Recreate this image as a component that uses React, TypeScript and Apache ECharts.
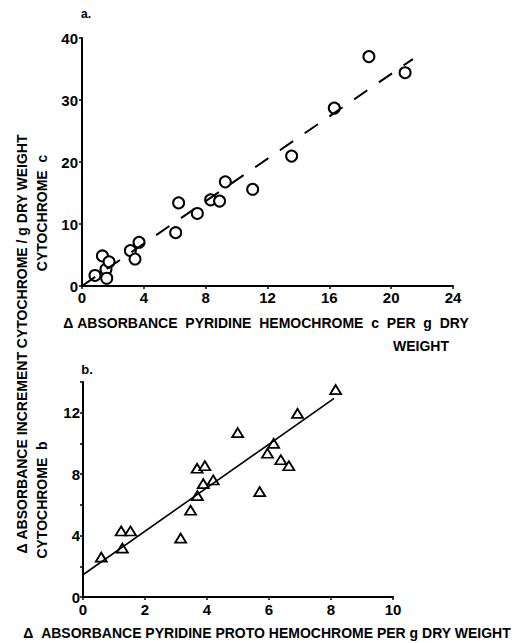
import React, { useEffect, useRef } from "react";
import * as echarts from "echarts";

// Panel a: cytochrome c
const pointsA: number[][] = [
  [0.84, 1.7], [1.32, 4.85], [1.55, 2.7], [1.6, 1.25], [1.75, 3.9],
  [3.13, 5.7], [3.43, 4.35], [3.69, 7.05], [6.06, 8.6], [6.25, 13.4],
  [7.46, 11.7], [8.32, 13.9], [8.9, 13.7], [9.27, 16.8], [11.04, 15.6],
  [13.56, 20.95], [16.32, 28.7], [18.56, 37.0], [20.9, 34.4],
];
const fitA: number[][] = [[0, 0], [21.4, 36.6]];
const xTicksA = { min: 0, max: 24, interval: 4 };
const yTicksA = { min: 0, max: 40, interval: 10 };

// Panel b: cytochrome b
const pointsB: number[][] = [
  [0.59, 2.6], [1.23, 4.3], [1.53, 4.3], [1.27, 3.18], [3.15, 3.83],
  [3.47, 5.65], [3.69, 6.6], [3.68, 8.38], [3.93, 8.55], [3.88, 7.38],
  [4.2, 7.62], [4.99, 10.7], [5.7, 6.86], [5.95, 9.36], [6.15, 10.0],
  [6.38, 8.94], [6.64, 8.55], [6.92, 11.96], [8.15, 13.5],
];
const fitB: number[][] = [[0, 1.45], [8.1, 12.93]];
const xTicksB = { min: 0, max: 10, interval: 2 };
const yTicksB = { min: 0, max: 14, interval: 2 };
const yLabelStepB = 4;

const TEXT_Y_OUTER = "Δ ABSORBANCE INCREMENT CYTOCHROME / g DRY WEIGHT";
const TEXT_Y_A = "CYTOCHROME  c";
const TEXT_Y_B = "CYTOCHROME  b";
const TEXT_X_A = "Δ ABSORBANCE  PYRIDINE  HEMOCHROME  c  PER  g  DRY";
const TEXT_X_A2 = "WEIGHT";
const TEXT_X_B = "Δ  ABSORBANCE PYRIDINE PROTO HEMOCHROME PER g DRY WEIGHT";

const FONT = "'Liberation Sans', Arial, sans-serif";

export default function App() {
  const ref = useRef<HTMLDivElement>(null);
  useEffect(() => {
    if (!ref.current) return;
    const chart = echarts.init(ref.current, null, { renderer: "svg" });
    const axisCommon = {
      axisLine: { show: true, lineStyle: { color: "#000", width: 2 } },
      axisTick: { show: true, length: 3, lineStyle: { color: "#000", width: 1.5 } },
      splitLine: { show: false },
    };
    const labelStyle = {
      color: "#000",
      fontFamily: FONT,
      fontWeight: "bold" as const,
      fontSize: 15,
    };
    const titleStyle = {
      fill: "#000",
      font: `bold 14px ${FONT}`,
      align: "center",
      verticalAlign: "middle",
    };
    chart.setOption({
      animation: false,
      backgroundColor: "#fff",
      grid: [
        { left: 82, top: 38, width: 371, height: 248 },
        { left: 83, top: 382, width: 310, height: 215 },
      ],
      xAxis: [
        {
          type: "value", gridIndex: 0, ...xTicksA, ...axisCommon,
          axisLabel: { ...labelStyle, margin: 4 },
        },
        {
          type: "value", gridIndex: 1, ...xTicksB, ...axisCommon,
          axisLabel: { ...labelStyle, margin: 5 },
        },
      ],
      yAxis: [
        {
          type: "value", gridIndex: 0, ...yTicksA, ...axisCommon,
          axisLabel: { ...labelStyle, margin: 4 },
        },
        {
          type: "value", gridIndex: 1, ...yTicksB, ...axisCommon,
          axisLabel: {
            ...labelStyle, margin: 3,
            formatter: (v: number) => (v % yLabelStepB === 0 ? String(v) : ""),
          },
        },
      ],
      series: [
        {
          type: "line", xAxisIndex: 0, yAxisIndex: 0, data: fitA,
          symbol: "none", silent: true,
          lineStyle: { color: "#000", width: 2, type: [16, 14] },
        },
        {
          type: "scatter", xAxisIndex: 0, yAxisIndex: 0, data: pointsA,
          symbol: "circle", symbolSize: 11,
          itemStyle: { color: "#fff", borderColor: "#000", borderWidth: 2, opacity: 1 },
        },
        {
          type: "line", xAxisIndex: 1, yAxisIndex: 1, data: fitB,
          symbol: "none", silent: true,
          lineStyle: { color: "#000", width: 1.6 },
        },
        {
          type: "scatter", xAxisIndex: 1, yAxisIndex: 1, data: pointsB,
          symbol: "triangle", symbolSize: [11, 9],
          itemStyle: { color: "#fff", borderColor: "#000", borderWidth: 1.8, opacity: 1 },
        },
      ],
      graphic: [
        { type: "text", x: 86, y: 14, style: { ...titleStyle, text: "a.", font: `bold 12px ${FONT}` } },
        { type: "text", x: 87, y: 369, style: { ...titleStyle, text: "b.", font: `bold 13px ${FONT}` } },
        { type: "text", x: 22, y: 344, rotation: Math.PI / 2, style: { ...titleStyle, text: TEXT_Y_OUTER } },
        { type: "text", x: 42, y: 213, rotation: Math.PI / 2, style: { ...titleStyle, text: TEXT_Y_A } },
        { type: "text", x: 42, y: 500, rotation: Math.PI / 2, style: { ...titleStyle, text: TEXT_Y_B } },
        { type: "text", x: 266, y: 323, style: { ...titleStyle, text: TEXT_X_A } },
        { type: "text", x: 421, y: 346, style: { ...titleStyle, text: TEXT_X_A2 } },
        { type: "text", x: 267, y: 633, style: { ...titleStyle, text: TEXT_X_B } },
      ],
    });
    return () => chart.dispose();
  }, []);
  return (
    <div
      ref={ref}
      style={{ position: "fixed", left: 0, top: 0, width: 524, height: 643 }}
    />
  );
}
